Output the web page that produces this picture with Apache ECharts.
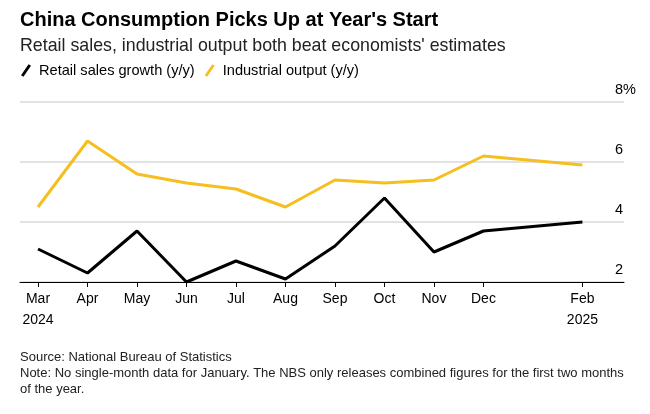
<!DOCTYPE html>
<html>
<head>
<meta charset="utf-8">
<script src="https://cdn.jsdelivr.net/npm/echarts@6/dist/echarts.min.js"></script>
<style>
html,body{margin:0;padding:0;background:#fff;}
#c{width:650px;height:414px;}
</style>
</head>
<body>
<div id="c"></div>
<script>
// month index (Mar 2024 = 0 ... Feb 2025 = 11; Jan 2025 = 10 has no data)
var monthIndex = [0, 1, 2, 3, 4, 5, 6, 7, 8, 9, 11];
var monthLabels = ['Mar\n2024', 'Apr', 'May', 'Jun', 'Jul', 'Aug', 'Sep', 'Oct', 'Nov', 'Dec', 'Feb\n2025'];
var retailSales = [3.1, 2.3, 3.7, 2.0, 2.7, 2.1, 3.2, 4.8, 3.0, 3.7, 4.0];
var industrialOutput = [4.5, 6.7, 5.6, 5.3, 5.1, 4.5, 5.4, 5.3, 5.4, 6.2, 5.9];
var yTicks = [2, 4, 6, 8];

var FONT = 'Liberation Sans, Arial, sans-serif';
var YELLOW = '#f4bf1f';

function pairs(vals) {
  return vals.map(function (v, i) { return [monthIndex[i], v]; });
}
var labelMap = {};
monthIndex.forEach(function (m, i) { labelMap[m] = monthLabels[i]; });

var chart = echarts.init(document.getElementById('c'), null, {renderer: 'canvas'});
var slash = 'path://M0,11 L7.6,0 L10,1.4 L2.4,12.4 Z';
chart.setOption({
  animation: false,
  backgroundColor: '#fff',
  textStyle: {fontFamily: FONT},
  title: [
    {text: "China Consumption Picks Up at Year's Start", left: 15, top: 5,
     textStyle: {fontSize: 20, fontWeight: 'bold', color: '#000', fontFamily: FONT}},
    {text: "Retail sales, industrial output both beat economists' estimates", left: 15, top: 32,
     textStyle: {fontSize: 17.8, fontWeight: 'normal', color: '#222', fontFamily: FONT}},
    {text: 'Source: National Bureau of Statistics\nNote: No single-month data for January. The NBS only releases combined figures for the first two months\nof the year.',
     left: 15, top: 344,
     textStyle: {fontSize: 13, fontWeight: 'normal', color: '#222', lineHeight: 16, fontFamily: FONT}}
  ],
  legend: {
    left: 16, top: 58,
    itemWidth: 10, itemHeight: 14, itemGap: 10,
    textStyle: {fontSize: 14.6, color: '#000', fontFamily: FONT, padding: [0, 0, 0, 3]},
    data: [
      {name: 'Retail sales growth (y/y)', icon: slash, itemStyle: {color: '#000'}},
      {name: 'Industrial output (y/y)', icon: slash, itemStyle: {color: YELLOW}}
    ]
  },
  grid: {left: 20, right: 26, top: 102, bottom: 132, containLabel: false},
  xAxis: {
    type: 'value',
    min: -0.364, max: 11.84,
    axisLine: {show: true, lineStyle: {color: '#000', width: 1}},
    axisTick: {show: true, length: 5, lineStyle: {color: '#000'}, customValues: monthIndex},
    axisLabel: {
      customValues: monthIndex,
      formatter: function (v) { return labelMap[Math.round(v)] || ''; },
      fontSize: 14, color: '#000', lineHeight: 21, margin: 7, fontFamily: FONT
    },
    splitLine: {show: false}
  },
  yAxis: {
    type: 'value', position: 'right',
    min: 2, max: 8, interval: 2,
    axisLine: {show: false}, axisTick: {show: false},
    axisLabel: {
      inside: false, margin: -9, verticalAlign: 'bottom', padding: [0, 0, 5, 0],
      fontSize: 14.5, color: '#000', fontFamily: FONT,
      formatter: function (v) { return v === 8 ? '8%' : String(v); }
    },
    splitLine: {show: true, lineStyle: {color: '#d9d9d9', width: 1.5}}
  },
  series: [
    {name: 'Retail sales growth (y/y)', type: 'line', data: pairs(retailSales),
     showSymbol: false, symbol: 'none', lineStyle: {color: '#000', width: 3}, itemStyle: {color: '#000'}, z: 3},
    {name: 'Industrial output (y/y)', type: 'line', data: pairs(industrialOutput),
     showSymbol: false, symbol: 'none', lineStyle: {color: YELLOW, width: 3}, itemStyle: {color: YELLOW}, z: 2}
  ]
});
</script>
</body>
</html>
